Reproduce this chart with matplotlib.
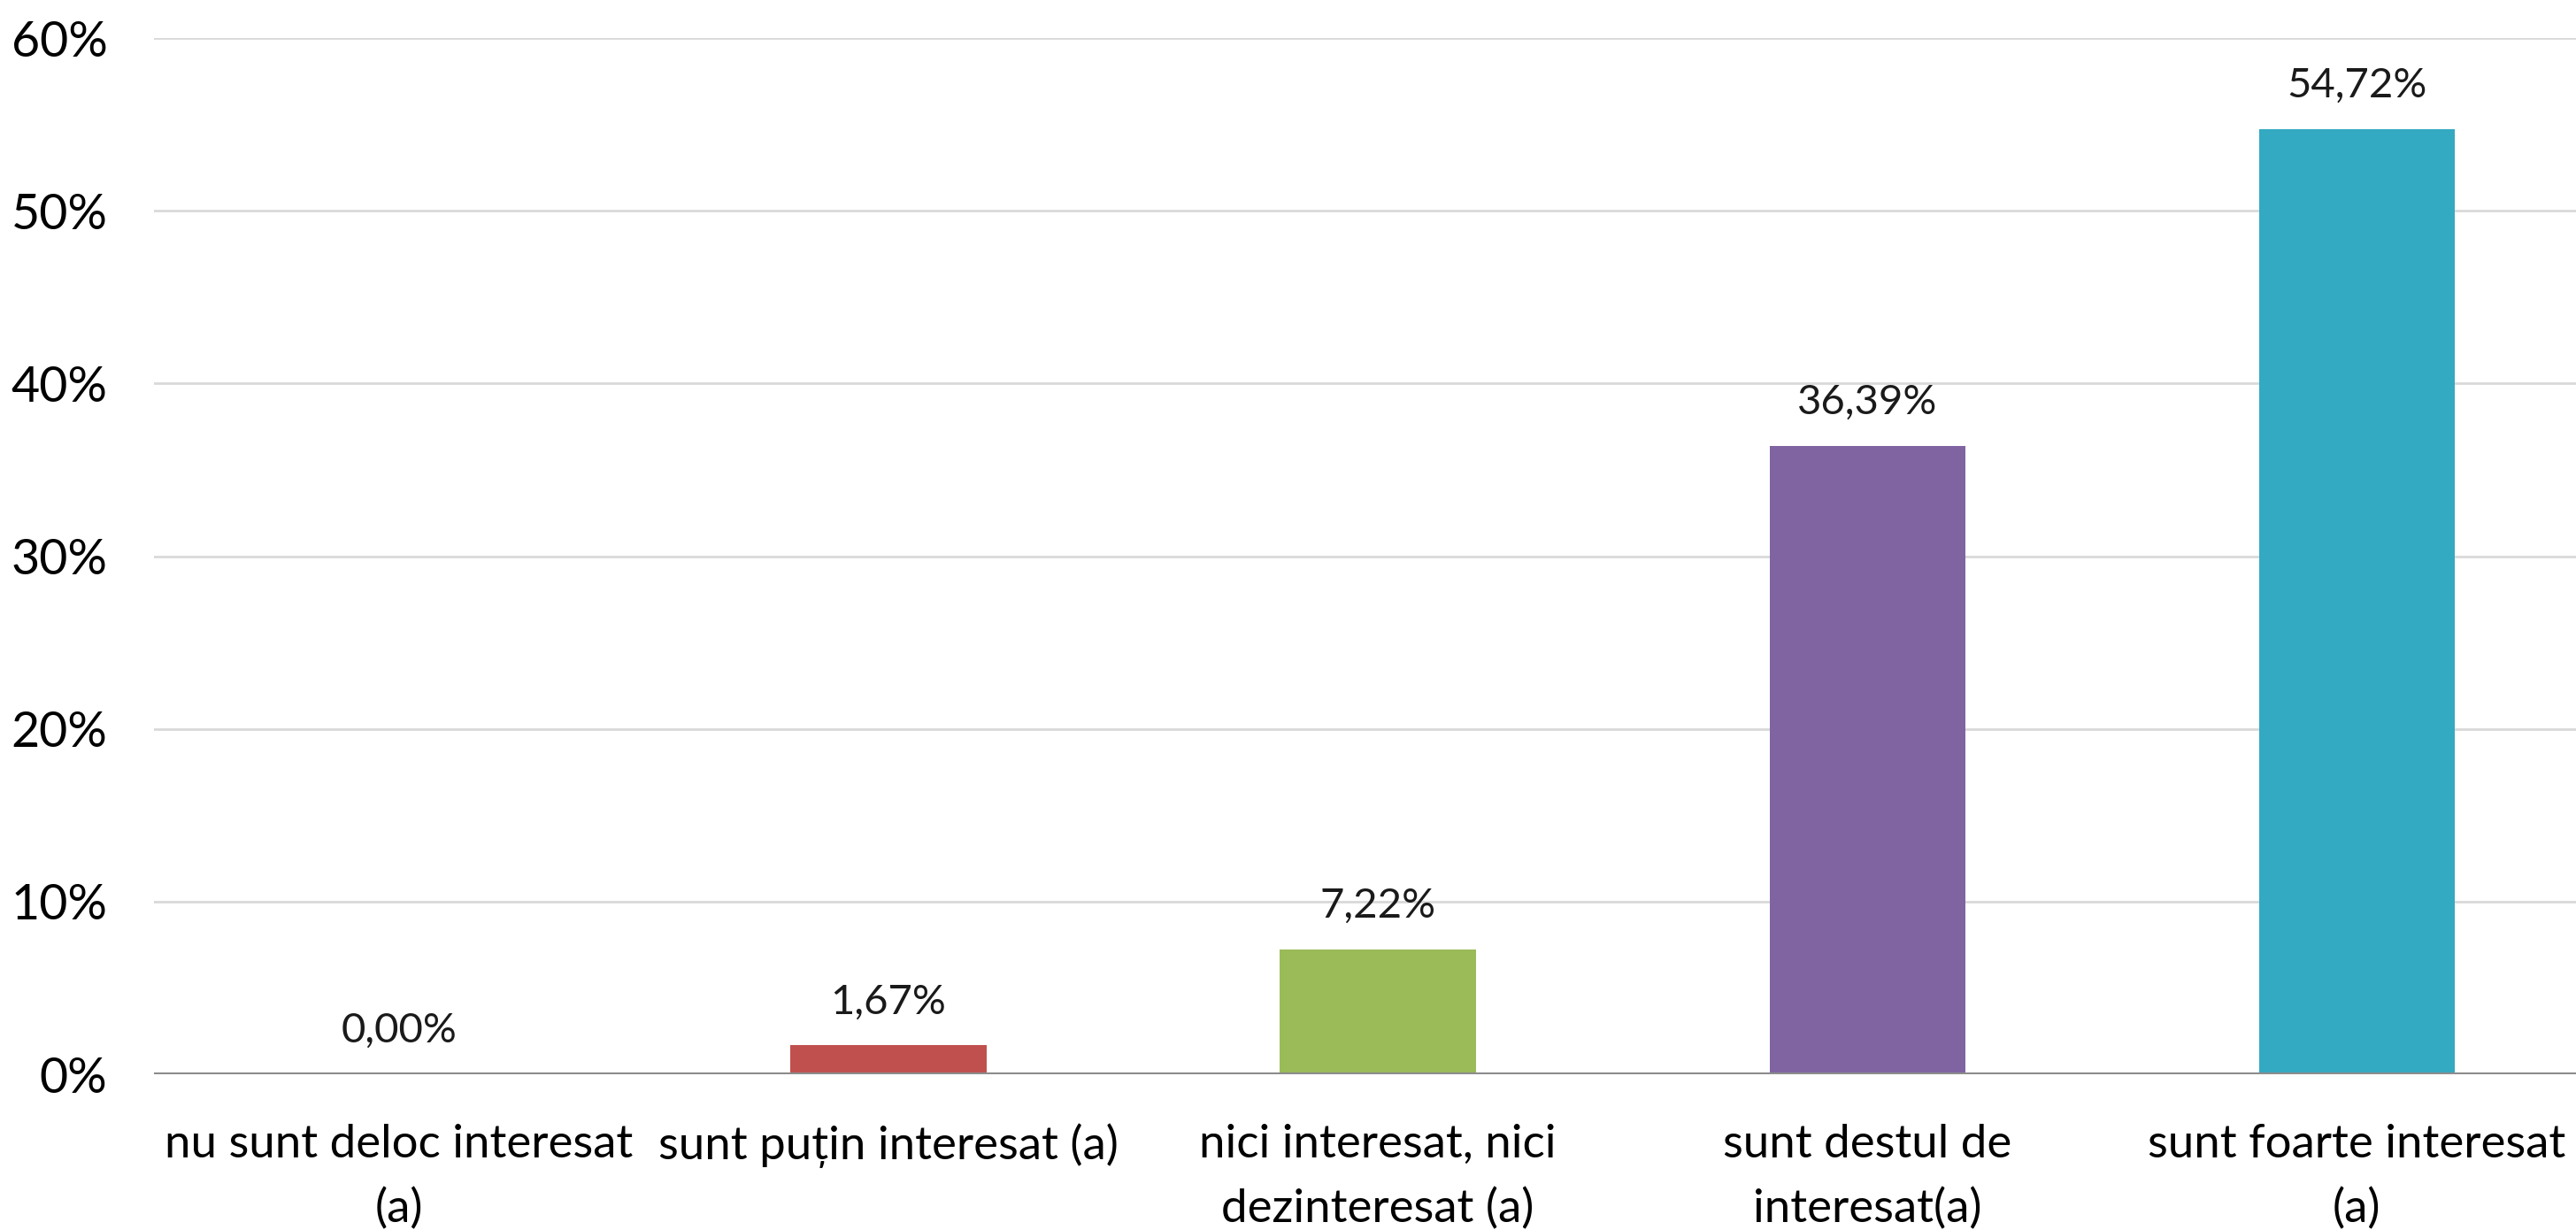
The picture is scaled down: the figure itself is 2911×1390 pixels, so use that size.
import numpy as np
import matplotlib
matplotlib.use("Agg")
import matplotlib.pyplot as plt
from matplotlib.ticker import FuncFormatter, MultipleLocator

plt.rcParams['font.family'] = ['Lato', 'DejaVu Sans']

categories = ["nu sunt deloc interesat\n(a)",
              "sunt puțin interesat (a)",
              "nici interesat, nici\ndezinteresat (a)",
              "sunt destul de\ninteresat(a)",
              "sunt foarte interesat\n(a)"]
values = [0.00, 1.67, 7.22, 36.39, 54.72]
colors = ["#C0504D", "#C0504D", "#9BBB59", "#8064A2", "#34A9C2"]

fig = plt.figure(figsize=(29.11, 13.90), dpi=100)
ax = fig.add_axes([0.0599, 0.1266, 0.950, 0.8424])

x = np.arange(len(categories))
ax.bar(x, values, width=0.4, color=colors, zorder=3)

for xi, v in zip(x, values):
    ax.annotate(f"{v:.2f}".replace(".", ",") + "%", (xi, v),
                xytext=(0, 26), textcoords="offset points",
                ha="center", va="baseline", fontsize=34, color="#1a1a1a")

ax.set_xlim(-0.5, len(categories) - 0.5)
ax.set_ylim(0, 60)
ax.yaxis.set_major_locator(MultipleLocator(10))
ax.yaxis.set_major_formatter(FuncFormatter(lambda v, p: f"{v:.0f}%"))
ax.grid(axis="y", color="#d9d9d9", linewidth=2, zorder=0)
ax.axhline(0, color="#8c8c8c", linewidth=3, zorder=4)

ax.set_xticks(x)
ax.set_xticklabels(categories, fontsize=38, linespacing=1.65)
ax.tick_params(axis="x", length=0, pad=40)
ax.tick_params(axis="y", length=0, pad=38, labelsize=40)

for s in ax.spines.values():
    s.set_visible(False)

fig.savefig("out.png", dpi=100)
